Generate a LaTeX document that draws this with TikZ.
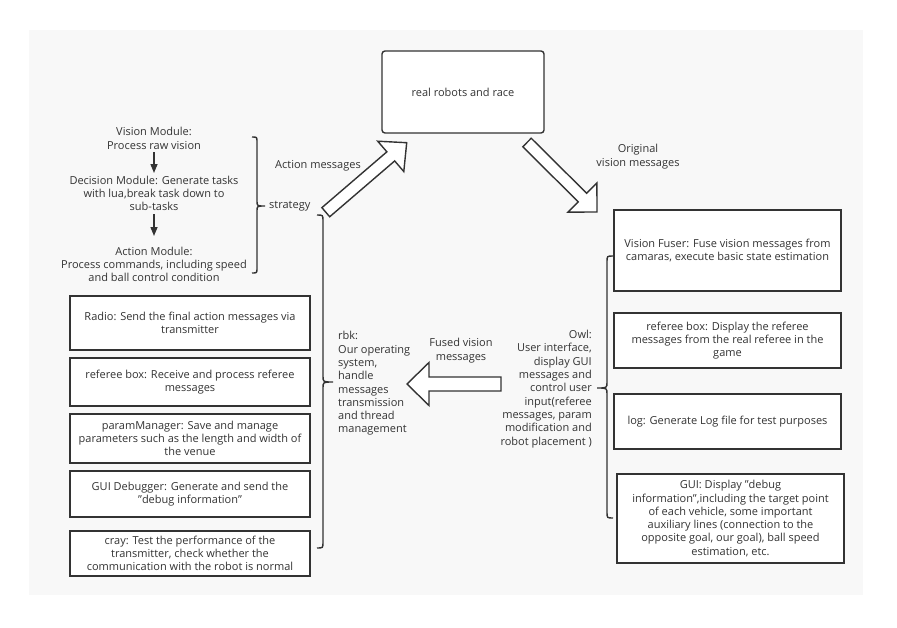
\documentclass[tikz,border=0pt]{standalone}
\usepackage{fontspec}
\setmainfont{Open Sans}
\usetikzlibrary{arrows.meta,calc}
\definecolor{ln}{HTML}{333333}
\definecolor{tx}{HTML}{333333}
\definecolor{bg}{HTML}{F8F8F8}
\newcommand\blockarrow[5]{% tail, tip, half shaft, half head, head length
  \coordinate (ba-b) at ($(#2)!#5pt!(#1)$);
  \draw[blockarr] ($(#1)!#3pt!90:(#2)$) -- ($(ba-b)!#3pt!-90:(#1)$) -- ($(ba-b)!#4pt!-90:(#1)$) -- (#2)
    -- ($(ba-b)!#4pt!90:(#1)$) -- ($(ba-b)!#3pt!90:(#1)$) -- ($(#1)!#3pt!-90:(#2)$) -- cycle;
}
\begin{document}
\begin{tikzpicture}[x=1pt,y=-1pt,
  every node/.style={font=\fontsize{11}{13.3}\selectfont, text=tx},
  box/.style={draw=ln, line width=1.4pt, fill=white, align=center, inner sep=2pt},
  lbl/.style={align=center, inner sep=1pt},
  brc/.style={draw=ln, line width=1.4pt},
  blockarr/.style={draw=ln, line width=1.4pt, fill=white, line join=miter},
  smallarr/.style={draw=ln, line width=1.4pt, -{Triangle[width=7pt,length=9pt]}}]
\useasboundingbox (0,0) rectangle (897,627);
\fill[white] (0,0) rectangle (897,627);
\fill[bg] (29,30) rectangle (863,595);

% top box
\node[box, rounded corners=3pt, minimum width=162pt, minimum height=82pt] (robots) at (463,92) {real robots and race};

% strategy modules
\node[lbl] (vis) at (154,138.5) {Vision Module:\\Process raw vision};
\node[lbl] (dec) at (154,193.5) {Decision Module: Generate tasks\\with lua,break task down to\\sub-tasks};
\node[lbl] (act) at (154,264.5) {Action Module:\\Process commands, including speed\\and ball control condition};
\draw[smallarr] (154,152) -- (154,173);
\draw[smallarr] (154,214) -- (154,236);

\draw[brc] (252,137) .. controls (257,137) .. (257,142) -- (257,201) .. controls (257,206) .. (265,206)
  .. controls (257,206) .. (257,211) -- (257,268) .. controls (257,273) .. (252,273);
\node[lbl, anchor=west] (strat) at (268,206) {strategy};
\node[lbl] (actmsg) at (318,166) {Action messages};

% left boxes
\node[box, minimum width=240pt, minimum height=54pt] (radio) at (190,323) {Radio: Send the final action messages via\\transmitter};
\node[box, minimum width=240pt, minimum height=48pt] (refL) at (190,382) {referee box: Receive and process referee\\messages};
\node[box, minimum width=240pt, minimum height=49pt] (param) at (190,438.5) {paramManager: Save and manage\\parameters such as the length and width of\\the venue};
\node[box, minimum width=240pt, minimum height=46pt] (guidbg) at (190,494) {GUI Debugger: Generate and send the\\"debug information"};
\node[box, minimum width=240pt, minimum height=45pt] (cray) at (190,553.5) {cray: Test the performance of the\\transmitter, check whether the\\communication with the robot is normal};

\draw[brc] (317,215) .. controls (323,215) .. (323,221) -- (323,376) .. controls (323,382) .. (333,382)
  .. controls (323,382) .. (323,388) -- (323,542) .. controls (323,548) .. (317,548);
\node[lbl, align=left, anchor=west, inner sep=0pt] (rbk) at (338,383.5) {rbk:\\Our operating\\system,\\handle\\messages\\transmission\\and thread\\management};

% right boxes
\node[box, minimum width=227pt, minimum height=81pt] (fuser) at (727.5,250.5) {Vision Fuser: Fuse vision messages from\\camaras, execute basic state estimation};
\node[box, minimum width=227pt, minimum height=55pt] (refR) at (727.5,340.5) {referee box: Display the referee\\messages from the real referee in the\\game};
\node[box, minimum width=227pt, minimum height=55pt] (log) at (727.5,421.5) {log: Generate Log file for test purposes};
\node[box, minimum width=227pt, minimum height=89pt] (gui) at (730.5,518.5) {GUI: Display "debug\\information",including the target point\\of each vehicle, some important\\auxiliary lines (connection to the\\opposite goal, our goal), ball speed\\estimation, etc.};

\draw[brc] (613,256) .. controls (607,256) .. (607,262) -- (607,382) .. controls (607,388) .. (597,388)
  .. controls (607,388) .. (607,394) -- (607,512) .. controls (607,518) .. (613,518);
\node[lbl, align=right, anchor=east, inner sep=0pt] (owl) at (592,389) {Owl:\\User interface,\\display GUI\\messages and\\control user\\input(referee\\messages, param\\modification and\\robot placement )};

% block arrows
\coordinate (a1t) at (325.8,212.2);
\coordinate (a1p) at (406.7,142.7);
\blockarrow{a1t}{a1p}{6}{20}{21}
\coordinate (a2t) at (527,142.5);
\coordinate (a2p) at (597,212);
\blockarrow{a2t}{a2p}{6}{20.5}{20.5}
\coordinate (a3t) at (501,384);
\coordinate (a3p) at (407,384);
\blockarrow{a3t}{a3p}{7}{21.5}{22}

\node[lbl] (origmsg) at (638,156.5) {Original\\vision messages};
\node[lbl] (fusedmsg) at (461,350.5) {Fused vision\\messages};
\end{tikzpicture}
\end{document}
